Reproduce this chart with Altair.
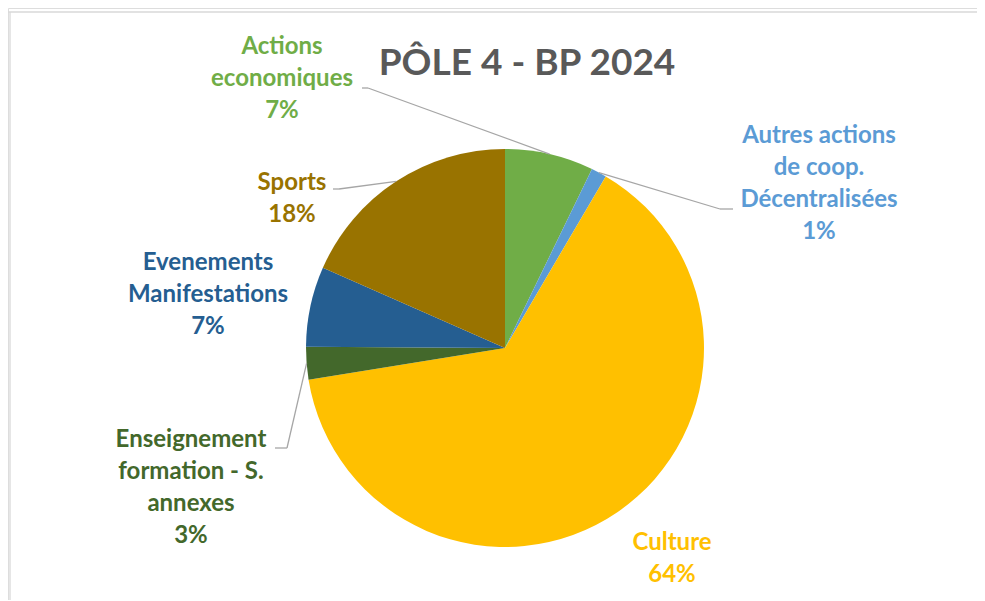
import altair as alt
import pandas as pd
import math

# ---- data ----
categories = ["Actions economiques", "Autres actions de coop. Décentralisées", "Culture",
              "Enseignement formation - S. annexes", "Evenements Manifestations", "Sports"]
label_lines = ["Actions\neconomiques\n7%", "Autres actions\nde coop.\nDécentralisées\n1%", "Culture\n64%",
               "Enseignement\nformation - S.\nannexes\n3%", "Evenements\nManifestations\n7%", "Sports\n18%"]
shares = [7.2, 1.25, 64.0, 2.65, 6.5, 18.4]
colors = ["#70AD47", "#5B9BD5", "#FFC000", "#43682B", "#255E91", "#997300"]

# ---- layout (pixels in chart space) ----
CX, CY, R = 497, 340, 199
W, H = 969, 592
label_pos = [(274, 39), (811, 128), (664, 535), (183, 432), (200, 255), (284, 175)]
# leader lines: label-side elbow points (None = no leader)
leader_pts = [[(354, 80), (360, 80)], [(725, 201), (712, 201)], None,
              [(267, 440), (279, 440)], None, [(325, 181), (331, 181)]]

df = pd.DataFrame({"cat": categories, "val": shares, "order": range(len(shares))})

# slice mid angles from the data
total = sum(shares)
mids, acc = [], 0.0
for v in shares:
    mids.append((acc + v / 2) / total * 2 * math.pi)
    acc += v

segs = []
for i, pts in enumerate(leader_pts):
    if pts is None:
        continue
    rim = (CX + R * math.sin(mids[i]), CY - R * math.cos(mids[i]))
    chain = pts + [rim]
    for a, b in zip(chain[:-1], chain[1:]):
        segs.append({"x": a[0], "y": a[1], "x2": b[0], "y2": b[1]})
seg_df = pd.DataFrame(segs)

lab_df = pd.DataFrame({"txt": label_lines, "x": [p[0] for p in label_pos],
                       "y": [p[1] for p in label_pos], "cat": categories})

color_scale = alt.Scale(domain=categories, range=colors)

shadow = alt.Chart(pd.DataFrame({"v": [1]})).mark_arc(
    outerRadius=R + 3, color="#000000", opacity=0.08
).encode(theta=alt.Theta("v:Q"), x=alt.value(CX + 2), y=alt.value(CY + 3))
shadow2 = alt.Chart(pd.DataFrame({"v": [1]})).mark_arc(
    outerRadius=R + 1, color="#000000", opacity=0.08
).encode(theta=alt.Theta("v:Q"), x=alt.value(CX + 2), y=alt.value(CY + 2))

pie = alt.Chart(df).mark_arc(outerRadius=R).encode(
    theta=alt.Theta("val:Q", stack=True),
    order=alt.Order("order:Q"),
    color=alt.Color("cat:N", scale=color_scale, legend=None),
    x=alt.value(CX), y=alt.value(CY),
)

leaders = alt.Chart(seg_df).mark_rule(color="#A6A6A6", strokeWidth=1.3).encode(
    x=alt.X("x:Q", scale=None), y=alt.Y("y:Q", scale=None),
    x2="x2:Q", y2="y2:Q",
)

labels = alt.Chart(lab_df).mark_text(
    font="Lato", fontWeight="bold", fontSize=24, lineBreak="\n", lineHeight=32,
    align="center", baseline="middle"
).encode(
    x=alt.X("x:Q", scale=None), y=alt.Y("y:Q", scale=None), text="txt:N",
    color=alt.Color("cat:N", scale=color_scale, legend=None),
)

title = alt.Chart(pd.DataFrame({"t": ["PÔLE 4 - BP 2024"]})).mark_text(
    font="Lato", fontWeight="bold", fontSize=37, color="#595959", align="center", baseline="middle"
).encode(text="t:N", x=alt.value(519), y=alt.value(56))

frame = alt.Chart(pd.DataFrame({"x": [2, -8], "y": [4, 4], "x2": [2, W + 8], "y2": [H + 8, 4]})).mark_rule(
    color="#D9D9D9", strokeWidth=1.3
).encode(x=alt.X("x:Q", scale=None), y=alt.Y("y:Q", scale=None), x2="x2:Q", y2="y2:Q")

chart = alt.layer(frame, shadow, shadow2, pie, leaders, labels, title).properties(
    width=W, height=H, padding=0, autosize=alt.AutoSizeParams(type="none")
).configure_view(stroke=None).configure(background="white")

chart.save("out.html", embed_options={"renderer": "svg", "actions": False})
